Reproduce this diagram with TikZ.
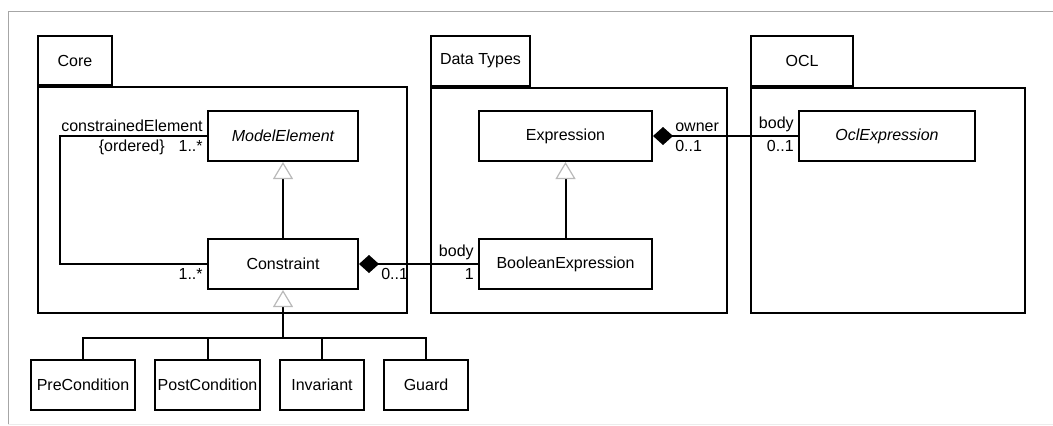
\documentclass[tikz,border=0pt]{standalone}
\usepackage{fontspec}
\setmainfont{Liberation Sans}
\usetikzlibrary{positioning,arrows.meta}

\begin{document}
\begin{tikzpicture}[x=1pt,y=-1pt,
    font=\fontsize{16}{18}\selectfont,
    class/.style={rectangle, draw, line width=2pt, minimum height=50pt, inner sep=2pt},
    pkg/.style={rectangle, draw, line width=2pt},
    link/.style={line width=2pt},
    inherit/.style={line width=2pt, -{Triangle[open, length=17pt, width=20pt, line width=1.2pt, color=gray!55]}},
    owns/.style={line width=2pt, {Diamond[length=20pt, width=18pt]}-}]
    \useasboundingbox (0,0) rectangle (1053,426);

    % frame
    \draw[gray!70, line width=0.8pt] (1053,11) -- (8,11) -- (8,424);
    \draw[gray!15, line width=0.8pt] (8,424) -- (1053,424);

    % packages
    \node[pkg, anchor=north west, minimum width=369pt, minimum height=226pt] (Core) at (37,86) {};
    \node[pkg, anchor=south west, minimum width=74pt, minimum height=49pt] (CoreTab) at (Core.north west) {Core};
    \node[pkg, anchor=north west, minimum width=296pt, minimum height=225pt] (DataTypes) at (430,87) {};
    \node[pkg, anchor=south west, minimum width=99pt, minimum height=50pt] (DataTypesTab) at (DataTypes.north west) {Data Types};
    \node[pkg, anchor=north west, minimum width=274pt, minimum height=225pt] (OCL) at (750,87) {};
    \node[pkg, anchor=south west, minimum width=102pt, minimum height=50pt] (OCLTab) at (OCL.north west) {OCL};

    % classes
    \node[class, minimum width=150pt] (ModelElement) at (283,136) {\itshape ModelElement};
    \node[class, minimum width=150pt, below=76pt of ModelElement] (Constraint) {Constraint};
    \node[class, minimum width=173pt] (Expression) at (565.5,136) {Expression};
    \node[class, minimum width=173pt, below=76pt of Expression] (BooleanExpression) {BooleanExpression};
    \node[class, minimum width=176pt] (OclExpression) at (887,136) {\itshape OclExpression};

    \node[class, minimum width=104pt] (PreCondition) at (83,385) {PreCondition};
    \node[class, minimum width=105pt, right=18pt of PreCondition] (PostCondition) {PostCondition};
    \node[class, minimum width=84pt, right=18pt of PostCondition] (Invariant) {Invariant};
    \node[class, minimum width=84pt, right=18pt of Invariant] (Guard) {Guard};
    \coordinate[below=48pt of Constraint.south] (Bus);

    % generalizations
    \draw[inherit] (Constraint) -- (ModelElement);
    \draw[inherit] (BooleanExpression) -- (Expression);
    \draw[inherit] (Bus) -- (Constraint);
    \draw[link] (PreCondition.north) |- (Bus);
    \draw[link] (PostCondition.north) |- (Bus);
    \draw[link] (Invariant.north) |- (Bus);
    \draw[link] (Guard.north) |- (Bus);

    % associations
    \draw[link] (ModelElement.west) node[above left] {constrainedElement}
        node[below left] {\{ordered\}\hspace{14pt}1..*}
        -- ++(-147,0) |- (Constraint.west) node[below left] {1..*};
    \draw[owns] (Constraint.east) -- node[pos=0, below right, xshift=18pt] {0..1}
        (BooleanExpression.west) node[above left] {body} node[below left] {1};
    \draw[owns] (Expression.east) -- node[pos=0, above right, xshift=18pt] {owner}
        node[pos=0, below right, xshift=18pt] {0..1}
        (OclExpression.west) node[above left] {body} node[below left] {0..1};
\end{tikzpicture}
\end{document}
